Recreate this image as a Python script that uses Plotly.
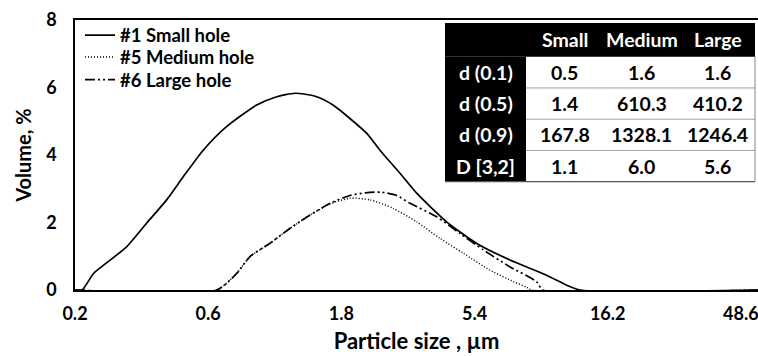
import plotly.graph_objects as go

# ---------------- data ----------------
small_x = [0.2, 0.212, 0.233, 0.263, 0.306, 0.361, 0.426, 0.489, 0.577, 0.698, 0.895, 1.05, 1.23,
           1.45, 1.68, 2.22, 2.47, 2.92, 3.35, 4.29, 5.5, 7.23, 9.78, 11.5, 12.9, 56]
small_y = [0, 0, 0.49, 0.84, 1.28, 1.98, 2.67, 3.36, 4.15, 4.84, 5.48, 5.72, 5.83,
           5.74, 5.48, 4.64, 4.15, 3.46, 2.87, 2.02, 1.38, 0.89, 0.44, 0.15, 0, 0]

medium_x = [0.2, 0.644, 0.759, 0.847, 0.997, 1.18, 1.39, 1.64, 1.93, 2.28, 2.76, 3.35, 4.06,
            4.92, 6.13, 7.43, 8.3, 8.65, 56]
medium_y = [0, 0, 0.49, 0.99, 1.38, 1.83, 2.22, 2.55, 2.72, 2.67, 2.42, 2.02, 1.53,
            1.09, 0.59, 0.25, 0.08, 0, 0]

large_x = [0.2, 0.644, 0.759, 0.847, 0.997, 1.18, 1.39, 1.64, 1.93, 2.2, 2.5, 2.84, 3.17,
           3.95, 4.78, 5.8, 7.22, 9.0, 9.5, 56]
large_y = [0, 0, 0.49, 0.99, 1.38, 1.83, 2.22, 2.57, 2.8, 2.88, 2.9, 2.8, 2.57,
           2.17, 1.68, 1.19, 0.69, 0.25, 0, 0]

series_names = ["#1 Small hole", "#5 Medium hole", "#6 Large hole"]

x_tick_vals = [0.2, 0.6, 1.8, 5.4, 16.2, 48.6]
x_tick_text = ["0.2", "0.6", "1.8", "5.4", "16.2", "48.6"]

table_header = ["", "Small", "Medium", "Large"]
table_rows = ["d (0.1)", "d (0.5)", "d (0.9)", "D [3,2]"]
table_small = ["0.5", "1.4", "167.8", "1.1"]
table_medium = ["1.6", "610.3", "1328.1", "6.0"]
table_large = ["1.6", "410.2", "1246.4", "5.6"]

FONT = "Lato"

# plot-area geometry (pixels) used to place the inset table / legends in paper coords
ML, MR, MT, MB = 75, 0, 20, 66
W, H = 758, 356
PW, PH = W - ML - MR, H - MT - MB


def px(xpix):
    return (xpix - ML) / PW


def py(ypix):
    return (H - MB - ypix) / PH


fig = go.Figure()

fig.add_trace(go.Scatter(x=small_x, y=small_y, mode="lines", name=series_names[0], legend="legend",
                         line=dict(color="black", width=1.7, shape="spline", smoothing=0.6)))
fig.add_trace(go.Scatter(x=medium_x, y=medium_y, mode="lines", name=series_names[1], legend="legend2",
                         line=dict(color="black", width=1.5, dash="1px,2px", shape="spline", smoothing=0.6)))
fig.add_trace(go.Scatter(x=large_x, y=large_y, mode="lines", name=series_names[2], legend="legend3",
                         line=dict(color="black", width=1.7, dash="10px,3px,2px,3px,2px,3px",
                                   shape="spline", smoothing=0.6)))

# ---------------- inset table (shapes + annotations) ----------------
col_edges = [445, 526, 603, 680, 755]
row_top, head_bot, row_h = 23, 56.7, 31.25
n_rows = len(table_rows)
tbl_bot = head_bot + n_rows * row_h

shapes = []
shapes.append(dict(type="rect", xref="paper", yref="paper", layer="above",
                   x0=px(col_edges[0]), x1=px(col_edges[-1]), y0=py(head_bot), y1=py(row_top),
                   fillcolor="black", line=dict(width=0)))
shapes.append(dict(type="rect", xref="paper", yref="paper", layer="above",
                   x0=px(col_edges[0]), x1=px(col_edges[1]), y0=py(tbl_bot), y1=py(head_bot),
                   fillcolor="black", line=dict(width=0)))
for i in range(1, n_rows):
    yy = head_bot + i * row_h
    shapes.append(dict(type="line", xref="paper", yref="paper", layer="above",
                       x0=px(col_edges[1]), x1=px(col_edges[-1]), y0=py(yy), y1=py(yy),
                       line=dict(color="#a0a0a0", width=1)))
shapes.append(dict(type="line", xref="paper", yref="paper", layer="above",
                   x0=px(col_edges[0]), x1=px(col_edges[-1]), y0=py(tbl_bot), y1=py(tbl_bot),
                   line=dict(color="#555555", width=1.2)))
shapes.append(dict(type="line", xref="paper", yref="paper", layer="above",
                   x0=px(col_edges[-1]), x1=px(col_edges[-1]), y0=py(tbl_bot), y1=py(head_bot),
                   line=dict(color="#888888", width=1)))

annotations = []
tfont = dict(family=FONT, size=19.5, weight="bold")
for j, h in enumerate(table_header):
    if h:
        annotations.append(dict(xref="paper", yref="paper", showarrow=False,
                                x=px((col_edges[j] + col_edges[j + 1]) / 2),
                                y=py((row_top + head_bot) / 2),
                                text=h, font=dict(tfont, color="white"),
                                xanchor="center", yanchor="middle"))
columns = [table_rows, table_small, table_medium, table_large]
for j, col in enumerate(columns):
    for i, v in enumerate(col):
        annotations.append(dict(xref="paper", yref="paper", showarrow=False,
                                x=px((col_edges[j] + col_edges[j + 1]) / 2),
                                y=py(head_bot + (i + 0.5) * row_h),
                                text=v, font=dict(tfont, color="white" if j == 0 else "black"),
                                xanchor="center", yanchor="middle"))

legend_style = dict(xanchor="left", yanchor="middle", bgcolor="rgba(0,0,0,0)", borderwidth=0,
                    font=dict(family=FONT, size=18.5, color="black", weight="bold"), itemwidth=30)
legend_x = px(80)

fig.update_layout(
    width=W, height=H,
    margin=dict(l=ML, r=MR, t=MT, b=MB),
    paper_bgcolor="white", plot_bgcolor="white",
    font=dict(family=FONT, color="black", size=18),
    showlegend=True,
    shapes=shapes,
    annotations=annotations,
    legend=dict(legend_style, x=legend_x, y=py(35.5)),
    legend2=dict(legend_style, x=legend_x, y=py(57.5)),
    legend3=dict(legend_style, x=legend_x, y=py(80)),
    xaxis=dict(type="log", range=[-0.69897, 1.748],
               tickvals=x_tick_vals, ticktext=x_tick_text,
               showgrid=False, zeroline=False,
               showline=True, linecolor="black", linewidth=1.5, mirror=True,
               ticks="", ticklabelstandoff=7, ticklabeloverflow="allow",
               tickfont=dict(family=FONT, size=18, weight="bold"),
               title=dict(text="Particle size , µm", standoff=10,
                          font=dict(family=FONT, size=22, weight="bold"))),
    yaxis=dict(range=[0, 8], dtick=2,
               showgrid=False, zeroline=False,
               showline=True, linecolor="black", linewidth=1.5,
               ticks="", ticklabelstandoff=13,
               tickfont=dict(family=FONT, size=18, weight="bold"),
               title=dict(text="Volume, %", standoff=9,
                          font=dict(family=FONT, size=20, weight="bold"))),
)

fig.write_html("out.html")
